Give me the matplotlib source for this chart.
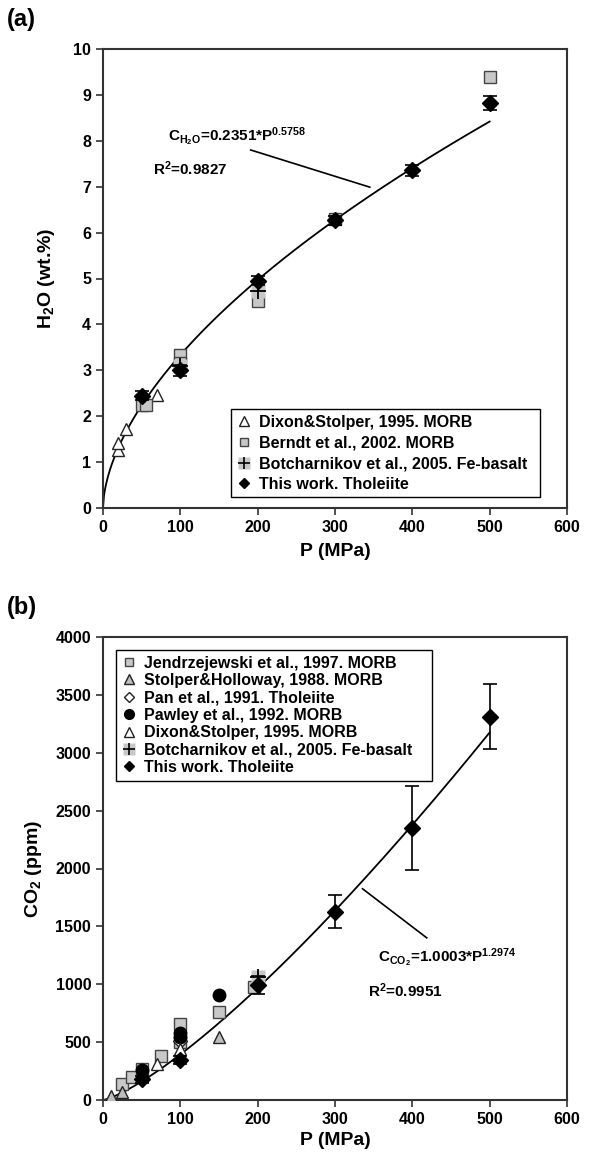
import numpy as np
import matplotlib
matplotlib.use("Agg")
import matplotlib.pyplot as plt
from matplotlib.legend_handler import HandlerTuple
from matplotlib.lines import Line2D

plt.rcParams['font.family'] = ['Liberation Sans', 'DejaVu Sans']
plt.rcParams['font.weight'] = 'bold'
plt.rcParams['mathtext.fontset'] = 'custom'
plt.rcParams['mathtext.rm'] = 'Liberation Sans:bold'
plt.rcParams['mathtext.it'] = 'Liberation Sans:bold'
plt.rcParams['mathtext.bf'] = 'Liberation Sans:bold'
plt.rcParams['mathtext.default'] = 'rm'

# ---------------- Panel (a) data: H2O ----------------
a_dixon_P = [20, 20, 30, 70]
a_dixon_H2O = [1.26, 1.42, 1.72, 2.47]
a_berndt_P = [50, 55, 100, 100, 200, 300, 500]
a_berndt_H2O = [2.24, 2.24, 3.33, 3.15, 4.50, 6.30, 9.40]
a_botch_P = [100, 200]
a_botch_H2O = [3.10, 4.72]
a_this_P = [50, 100, 200, 300, 400, 500]
a_this_H2O = [2.45, 3.00, 4.95, 6.27, 7.36, 8.82]
a_this_err = [0.10, 0.12, 0.10, 0.10, 0.12, 0.15]
a_fit_coef = 0.2351
a_fit_exp = 0.5758

# ---------------- Panel (b) data: CO2 ----------------
b_jendr_P = [25, 37, 50, 75, 100, 100, 150, 195]
b_jendr_CO2 = [135, 195, 265, 380, 660, 500, 760, 975]
b_stolper_P = [10, 25, 50, 150]
b_stolper_CO2 = [35, 70, 240, 545]
b_pan_P = [100]
b_pan_CO2 = [510]
b_pawley_P = [50, 100, 100, 150]
b_pawley_CO2 = [255, 580, 545, 910]
b_dixon_P = [70, 100]
b_dixon_CO2 = [312, 440]
b_botch_P = [200]
b_botch_CO2 = [1065]
b_this_P = [50, 100, 200, 300, 400, 500]
b_this_CO2 = [180, 345, 995, 1628, 2352, 3312]
b_this_err = [30, 35, 75, 143, 365, 280]
b_fit_coef = 1.0003
b_fit_exp = 1.2974

xticks = [0, 100, 200, 300, 400, 500, 600]
a_yticks = list(range(0, 11))
b_yticks = [0, 500, 1000, 1500, 2000, 2500, 3000, 3500, 4000]

fig = plt.figure(figsize=(6.0, 11.57), dpi=100)
W, H = 600.0, 1157.0
ax_a = fig.add_axes([103 / W, 1 - 508 / H, 464 / W, 459 / H])
ax_b = fig.add_axes([103 / W, 1 - 1100 / H, 464 / W, 463 / H])

GRAY_SQ = '#c8c8c8'
EDGE = '#222222'


def style_axes(ax):
    for s in ax.spines.values():
        s.set_color('#333333')
        s.set_linewidth(1.5)
    ax.tick_params(axis='both', which='both', direction='out', length=5, width=1.2,
                   labelsize=11.5, colors='#333333', labelcolor='black',
                   top=False, right=False)
    for lab in ax.get_xticklabels() + ax.get_yticklabels():
        lab.set_fontweight('bold')


def botch_handle(ms_sq=8, ms_plus=9):
    sq = Line2D([], [], linestyle='none', marker='s', markersize=ms_sq,
                markerfacecolor=GRAY_SQ, markeredgecolor='none')
    pl = Line2D([], [], linestyle='none', marker='+', markersize=ms_plus,
                markeredgecolor='black', markeredgewidth=1.2)
    return (sq, pl)


# ---------------- Draw panel (a) ----------------
P_fit = np.linspace(0, 500, 400)
ax_a.plot(P_fit, a_fit_coef * P_fit ** a_fit_exp, color='black', lw=1.3, zorder=2)
ax_a.plot(a_dixon_P, a_dixon_H2O, linestyle='none', marker='^', ms=9,
          mfc='white', mec=EDGE, mew=1.0, zorder=3)
ax_a.plot(a_berndt_P, a_berndt_H2O, linestyle='none', marker='s', ms=9,
          mfc=GRAY_SQ, mec='#444444', mew=1.0, zorder=3)
ax_a.plot(a_botch_P, a_botch_H2O, linestyle='none', marker='s', ms=10,
          mfc=GRAY_SQ, mec='none', zorder=4)
ax_a.plot(a_botch_P, a_botch_H2O, linestyle='none', marker='+', ms=11,
          mec='black', mew=1.3, zorder=4)
ax_a.errorbar(a_this_P, a_this_H2O, yerr=a_this_err, fmt='D', ms=8,
              mfc='black', mec='black', ecolor='black', elinewidth=1.2,
              capsize=5, capthick=1.2, zorder=5)

ax_a.set_xlim(0, 600)
ax_a.set_ylim(0, 10)
ax_a.set_xticks(xticks)
ax_a.set_yticks(a_yticks)
style_axes(ax_a)
ax_a.set_xlabel('P (MPa)', fontsize=14, fontweight='bold', labelpad=6)
ax_a.set_ylabel(r'H$_2$O (wt.%)', fontsize=14, fontweight='bold', labelpad=12)

ax_a.text(84, 8.0, r'C$_{\mathrm{H_2O}}$=0.2351*P$^{0.5758}$', fontsize=11,
          fontweight='bold')
ax_a.text(65, 7.25, r'R$^2$=0.9827', fontsize=11, fontweight='bold')
ax_a.plot([191, 345], [7.8, 6.99], color='black', lw=1.2)

hA = [
    Line2D([], [], linestyle='none', marker='^', ms=6.5, mfc='white', mec=EDGE, mew=1.0),
    Line2D([], [], linestyle='none', marker='s', ms=6, mfc=GRAY_SQ, mec='#444444', mew=1.0),
    botch_handle(8, 9),
    Line2D([], [], linestyle='none', marker='D', ms=5.5, mfc='black', mec='black'),
]
lA = ['Dixon&Stolper, 1995. MORB', 'Berndt et al., 2002. MORB',
      'Botcharnikov et al., 2005. Fe-basalt', 'This work. Tholeiite']
legA = ax_a.legend(hA, lA, loc='lower left',
                   bbox_to_anchor=(128 / 464, 0.023, 309 / 464, 0.2), mode='expand',
                   handler_map={tuple: HandlerTuple(ndivide=1, pad=0)},
                   prop={'weight': 'bold', 'size': 11.5}, frameon=True, fancybox=False,
                   edgecolor='black', framealpha=1, borderpad=0.35, labelspacing=0.35,
                   handlelength=0.9, handletextpad=0.5, borderaxespad=0)
legA.get_frame().set_linewidth(1.0)

# ---------------- Draw panel (b) ----------------
ax_b.plot(P_fit, b_fit_coef * P_fit ** b_fit_exp, color='black', lw=1.3, zorder=2)
ax_b.plot(b_jendr_P, b_jendr_CO2, linestyle='none', marker='s', ms=9,
          mfc=GRAY_SQ, mec='#444444', mew=1.0, zorder=3)
ax_b.plot(b_stolper_P, b_stolper_CO2, linestyle='none', marker='^', ms=9,
          mfc='#bdbdbd', mec=EDGE, mew=1.0, zorder=3)
ax_b.plot(b_pan_P, b_pan_CO2, linestyle='none', marker='D', ms=7,
          mfc='white', mec=EDGE, mew=1.0, zorder=3)
ax_b.plot(b_pawley_P, b_pawley_CO2, linestyle='none', marker='o', ms=9,
          mfc='black', mec='black', zorder=3)
ax_b.plot(b_dixon_P, b_dixon_CO2, linestyle='none', marker='^', ms=9,
          mfc='white', mec=EDGE, mew=1.0, zorder=3)
ax_b.plot(b_botch_P, b_botch_CO2, linestyle='none', marker='s', ms=10,
          mfc=GRAY_SQ, mec='none', zorder=4)
ax_b.plot(b_botch_P, b_botch_CO2, linestyle='none', marker='+', ms=11,
          mec='black', mew=1.3, zorder=4)
ax_b.errorbar(b_this_P, b_this_CO2, yerr=b_this_err, fmt='D', ms=8,
              mfc='black', mec='black', ecolor='black', elinewidth=1.2,
              capsize=5, capthick=1.2, zorder=5)

ax_b.set_xlim(0, 600)
ax_b.set_ylim(0, 4000)
ax_b.set_xticks(xticks)
ax_b.set_yticks(b_yticks)
style_axes(ax_b)
ax_b.set_xlabel('P (MPa)', fontsize=14, fontweight='bold', labelpad=4)
ax_b.set_ylabel(r'CO$_2$ (ppm)', fontsize=14, fontweight='bold', labelpad=8)

ax_b.text(356, 1197, r'C$_{\mathrm{CO_2}}$=1.0003*P$^{1.2974}$', fontsize=11,
          fontweight='bold')
ax_b.text(343, 890, r'R$^2$=0.9951', fontsize=11, fontweight='bold')
ax_b.plot([335.6, 418.6], [1825, 1401], color='black', lw=1.2)

hB = [
    Line2D([], [], linestyle='none', marker='s', ms=6, mfc=GRAY_SQ, mec='#444444', mew=1.0),
    Line2D([], [], linestyle='none', marker='^', ms=6.5, mfc='#bdbdbd', mec=EDGE, mew=1.0),
    Line2D([], [], linestyle='none', marker='D', ms=5, mfc='white', mec=EDGE, mew=1.0),
    Line2D([], [], linestyle='none', marker='o', ms=7, mfc='black', mec='black'),
    Line2D([], [], linestyle='none', marker='^', ms=6.5, mfc='white', mec=EDGE, mew=1.0),
    botch_handle(8, 9),
    Line2D([], [], linestyle='none', marker='D', ms=5.5, mfc='black', mec='black'),
]
lB = ['Jendrzejewski et al., 1997. MORB', 'Stolper&Holloway, 1988. MORB',
      'Pan et al., 1991. Tholeiite', 'Pawley et al., 1992. MORB',
      'Dixon&Stolper, 1995. MORB', 'Botcharnikov et al., 2005. Fe-basalt',
      'This work. Tholeiite']
legB = ax_b.legend(hB, lB, loc='upper left',
                   bbox_to_anchor=(13 / 464, 0.972 - 0.3, 316 / 464, 0.3), mode='expand',
                   handler_map={tuple: HandlerTuple(ndivide=1, pad=0)},
                   prop={'weight': 'bold', 'size': 11.5}, frameon=True, fancybox=False,
                   edgecolor='black', framealpha=1, borderpad=0.35, labelspacing=0.15,
                   handlelength=0.9, handletextpad=0.5, borderaxespad=0)
legB.get_frame().set_linewidth(1.0)

fig.text(0.012, 1 - 8 / H, '(a)', fontsize=17, fontweight='bold', va='top', ha='left')
fig.text(0.012, 1 - 596 / H, '(b)', fontsize=17, fontweight='bold', va='top', ha='left')

fig.savefig('out.png', dpi=100, facecolor='white')
